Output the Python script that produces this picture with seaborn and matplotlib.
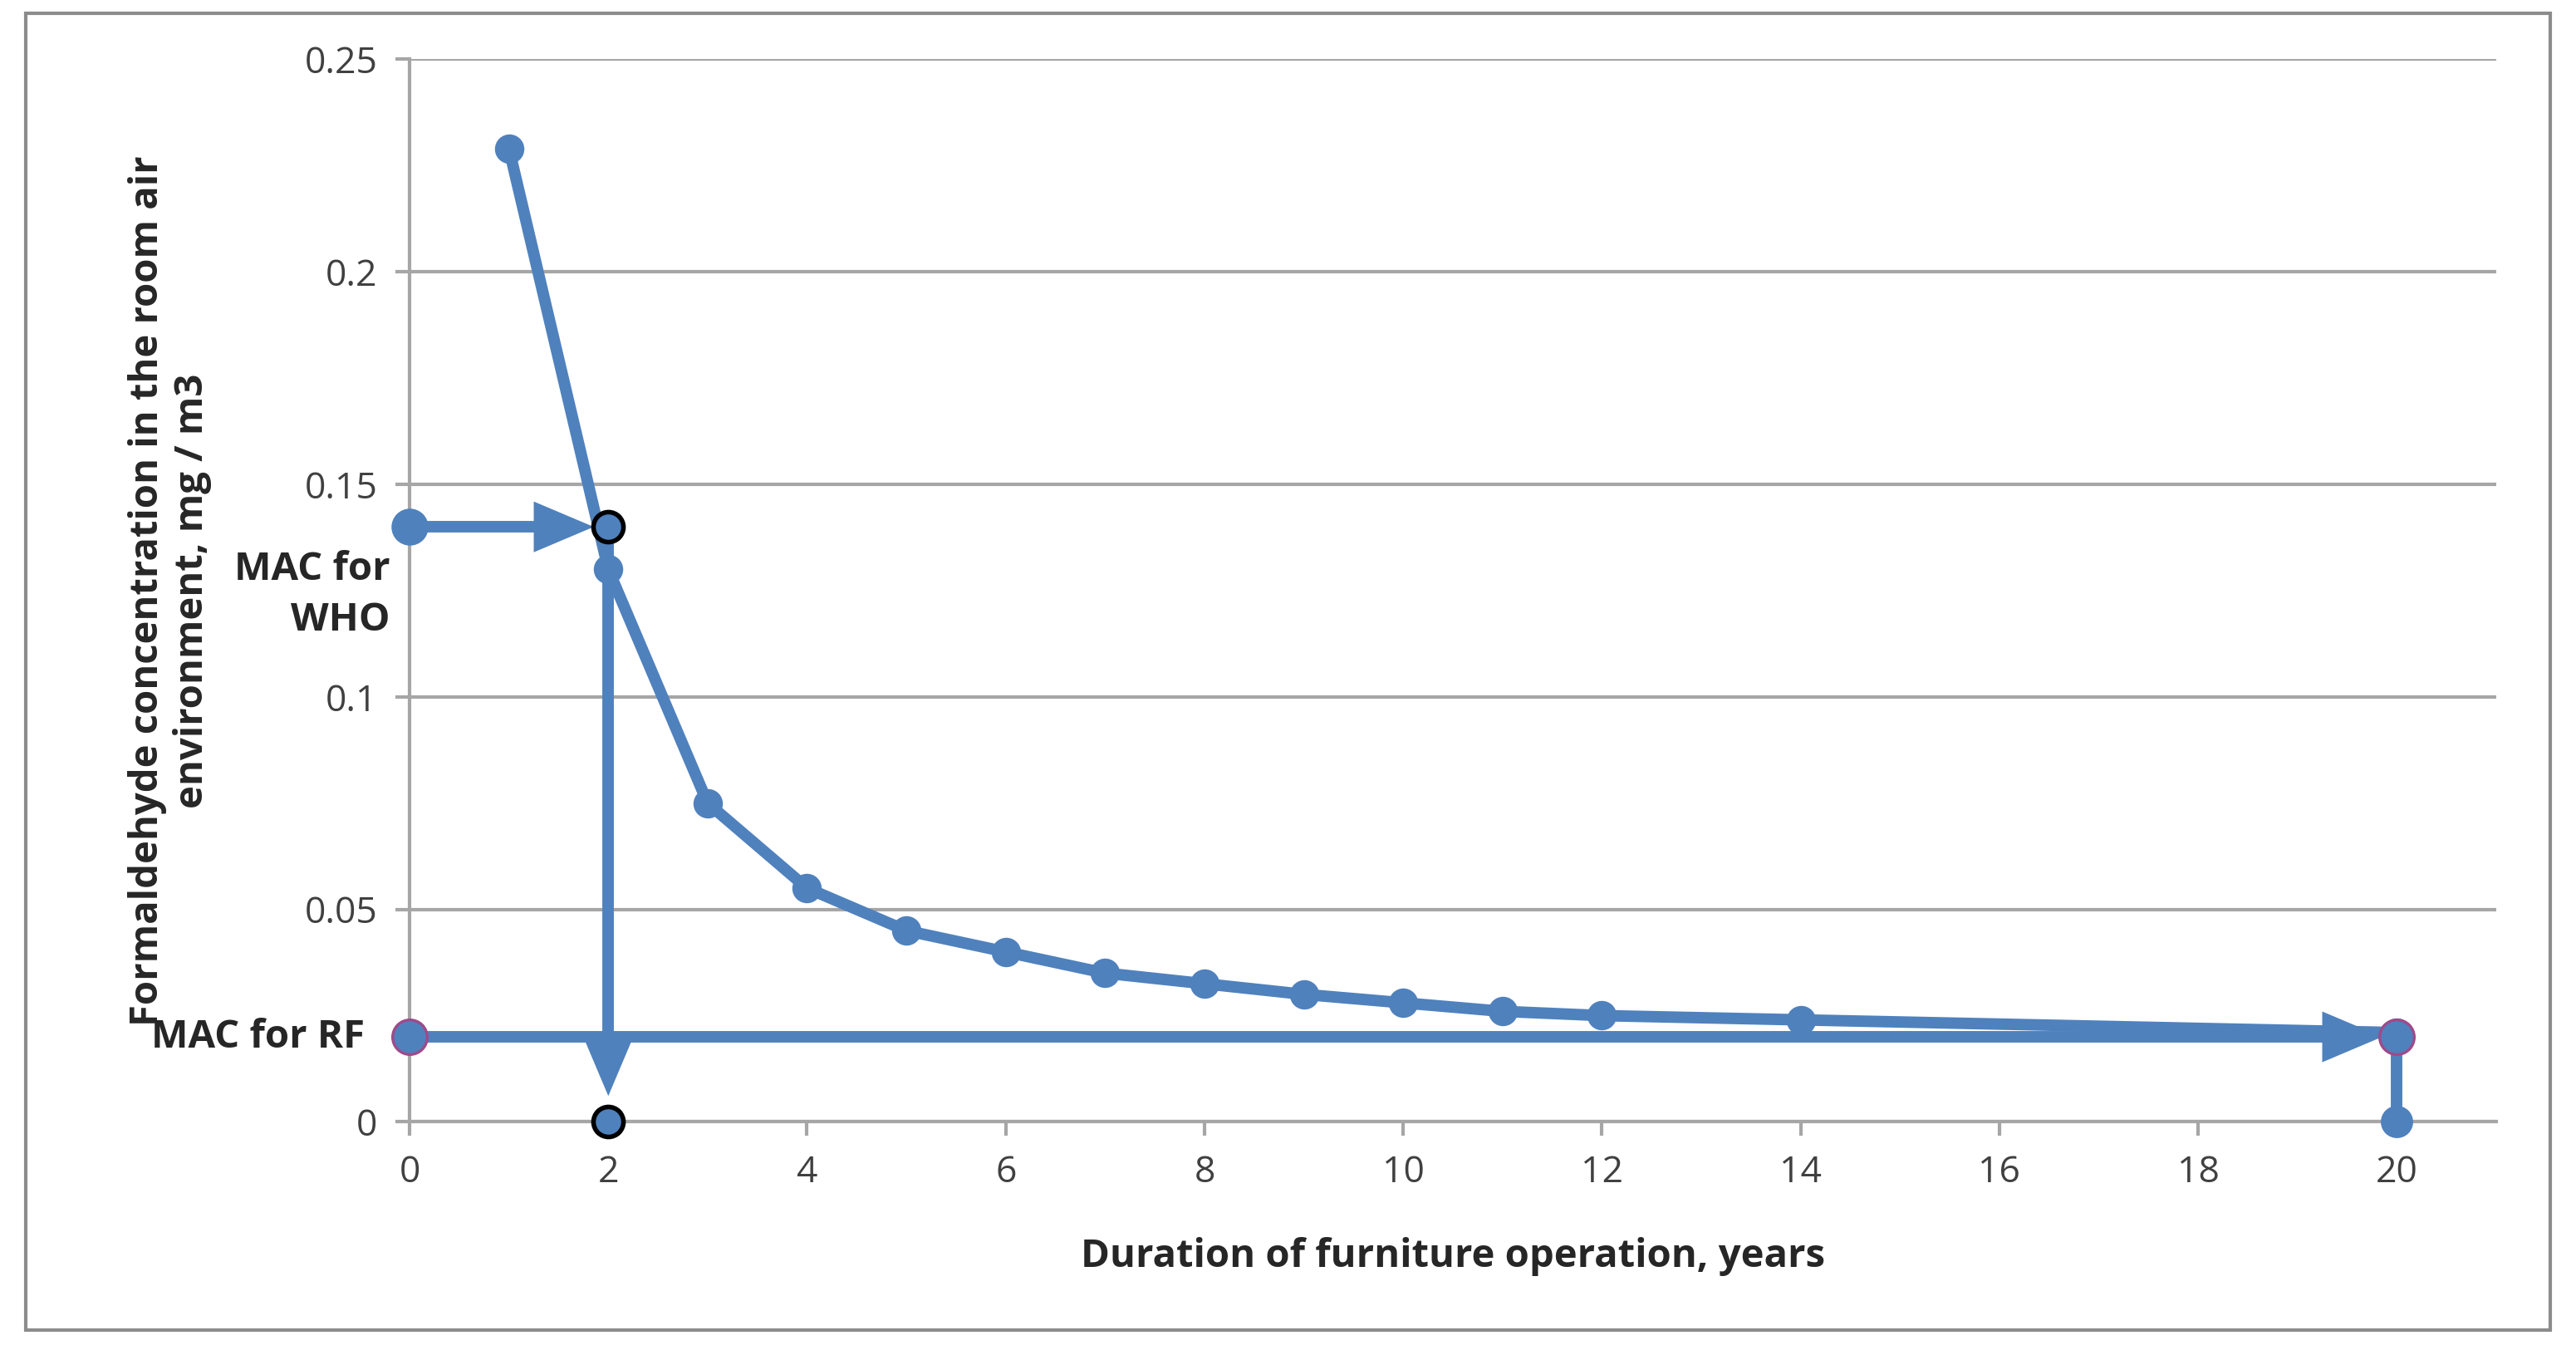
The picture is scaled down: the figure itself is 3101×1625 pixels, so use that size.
import matplotlib
matplotlib.use("Agg")
import matplotlib.pyplot as plt
import seaborn as sns
import pandas as pd
from matplotlib.patches import Rectangle

years = [1, 2, 3, 4, 5, 6, 7, 8, 9, 10, 11, 12, 14, 20]
conc = [0.229, 0.13, 0.075, 0.055, 0.045, 0.040, 0.035, 0.0325, 0.030, 0.028, 0.026, 0.025, 0.024, 0.021]
who_mac = 0.14
rf_mac = 0.02
who_year = 2
rf_year = 20
x_ticks = [0, 2, 4, 6, 8, 10, 12, 14, 16, 18, 20]
y_ticks = [0, 0.05, 0.1, 0.15, 0.2, 0.25]
y_labels = ["0", "0.05", "0.1", "0.15", "0.2", "0.25"]

BLUE = "#4f81bd"
ARROW = dict(arrowstyle="-|>,head_length=2.6,head_width=1.1", color=BLUE, lw=0, mutation_scale=10)

sns.set_style("white")
plt.rcParams['font.family'] = ['Open Sans', 'DejaVu Sans']

fig = plt.figure(figsize=(15.505, 8.125), dpi=200)
ax = fig.add_axes([0.159, 0.169, 0.81, 0.787])

df = pd.DataFrame({"year": years, "conc": conc})
sns.lineplot(data=df, x="year", y="conc", ax=ax, color=BLUE, lw=5,
             marker="o", markersize=12, markeredgecolor=BLUE, zorder=3)

# WHO arrows
ax.plot([0, who_year - 0.5], [who_mac, who_mac], color=BLUE, lw=5, zorder=3, clip_on=False)
ax.annotate("", xy=(who_year - 0.1, who_mac), xytext=(who_year - 0.8, who_mac),
            arrowprops=ARROW, zorder=4, annotation_clip=False)
ax.plot([who_year, who_year], [who_mac, 0.02], color=BLUE, lw=5, zorder=3)
ax.annotate("", xy=(who_year, 0.005), xytext=(who_year, 0.035),
            arrowprops=ARROW, zorder=4, annotation_clip=False)
ax.plot([0], [who_mac], "o", color=BLUE, ms=15, zorder=5, clip_on=False)
ax.plot([who_year, who_year], [who_mac, 0], "o", color=BLUE, mec="black", mew=2, ms=13,
        ls="none", zorder=6, clip_on=False)

# RF arrows
ax.plot([0, rf_year - 0.5], [rf_mac, rf_mac], color=BLUE, lw=5, zorder=3)
ax.annotate("", xy=(rf_year - 0.1, rf_mac), xytext=(rf_year - 0.8, rf_mac),
            arrowprops=ARROW, zorder=4, annotation_clip=False)
ax.plot([rf_year, rf_year], [rf_mac, 0], color=BLUE, lw=5, zorder=3)
ax.plot([0, rf_year], [rf_mac, rf_mac], "o", color=BLUE, mec="#9e4a8a", mew=1.2, ms=15,
        ls="none", zorder=6, clip_on=False)
ax.plot([rf_year], [0], "o", color=BLUE, ms=13, zorder=6, clip_on=False)

ax.set_xlim(0, 21)
ax.set_ylim(0, 0.25)
ax.set_xticks(x_ticks)
ax.set_yticks(y_ticks)
ax.set_yticklabels(y_labels)
ax.yaxis.grid(True, color="#a6a6a6", lw=1.5)
ax.set_axisbelow(True)
for s in ["top", "right"]:
    ax.spines[s].set_visible(False)
for s in ["left", "bottom"]:
    ax.spines[s].set_color("#a6a6a6")
    ax.spines[s].set_linewidth(1.5)
ax.tick_params(axis="both", labelsize=16, colors="#a6a6a6", length=6, width=1.5, direction="out",
               bottom=True, left=True, pad=8)
for t in ax.get_xticklabels() + ax.get_yticklabels():
    t.set_color("#404040")
ax.set_xlabel("Duration of furniture operation, years", fontsize=17, fontweight="bold", labelpad=20)
ax.set_ylabel("Formaldehyde concentration in the room air\nenvironment, mg / m3", fontsize=17,
              fontweight="bold", labelpad=40)

ax.text(-0.2, 0.124, "MAC for\nWHO", ha="right", va="center", fontsize=17, fontweight="bold",
        linespacing=1.4)
ax.text(-0.45, rf_mac, "MAC for RF", ha="right", va="center", fontsize=17, fontweight="bold")

fig.patches.append(Rectangle((0.01, 0.015), 0.98, 0.975, transform=fig.transFigure,
                             fill=False, edgecolor="#8c8c8c", lw=1.5))

fig.savefig("out.png", dpi=200)
